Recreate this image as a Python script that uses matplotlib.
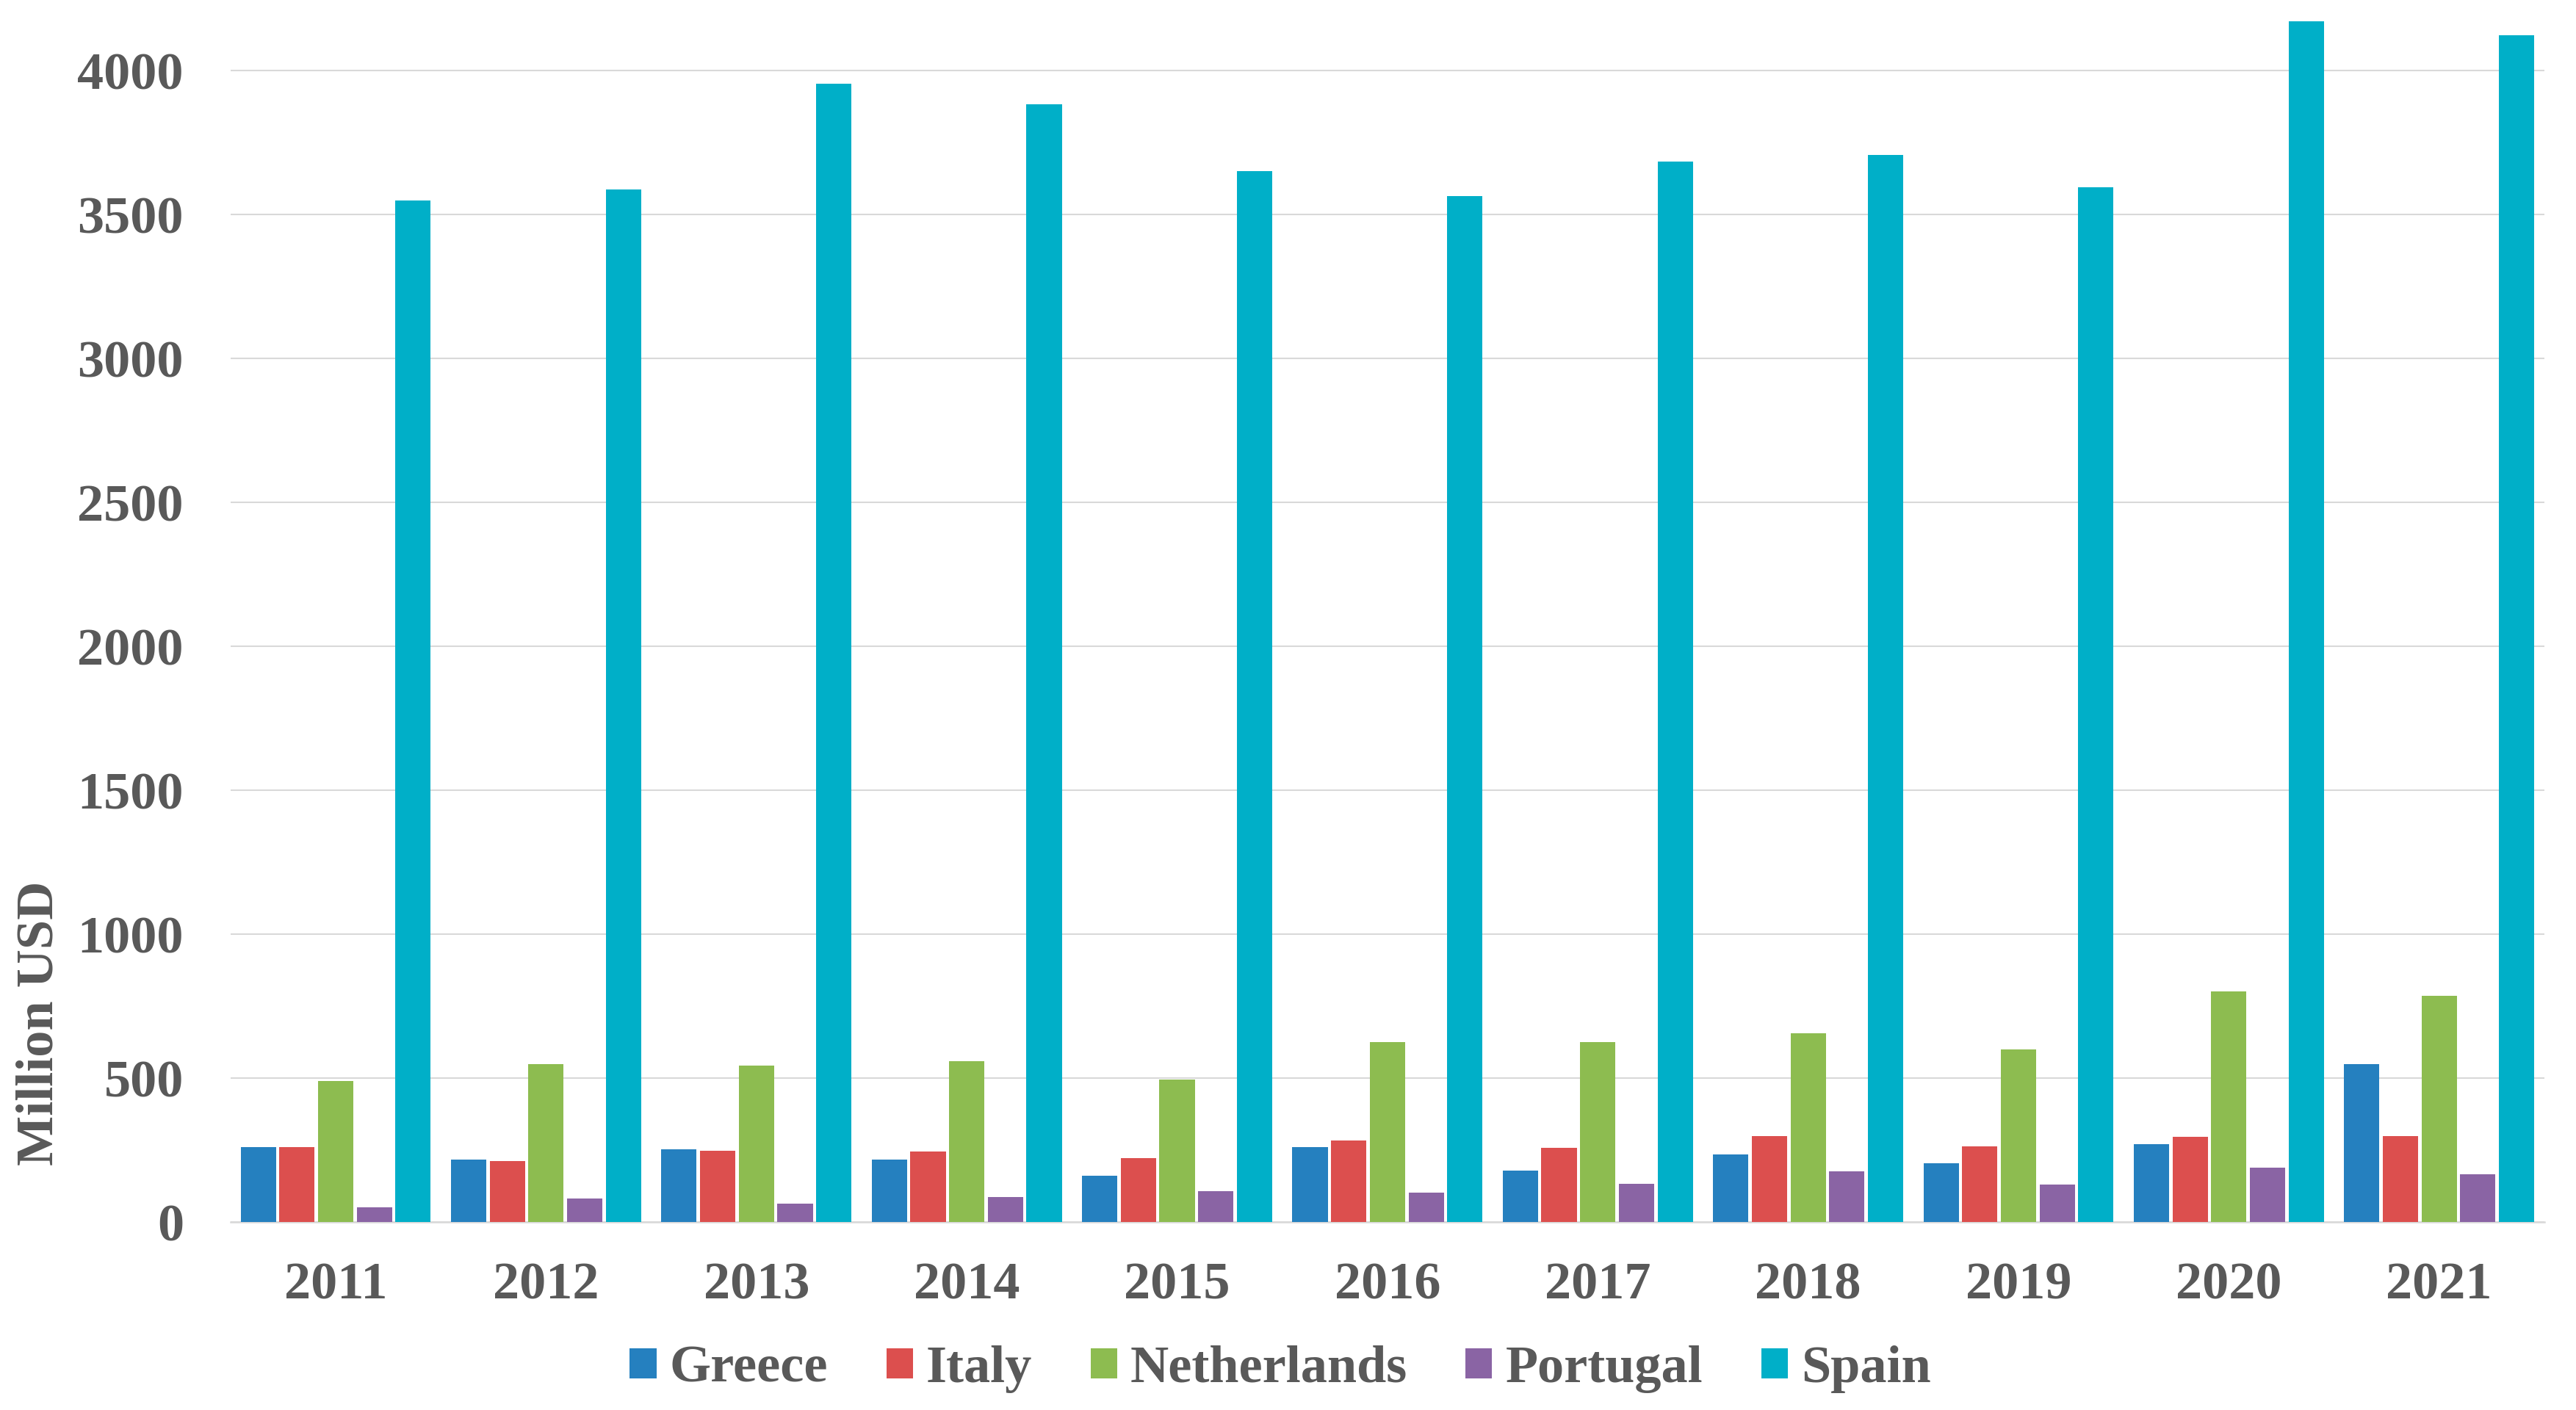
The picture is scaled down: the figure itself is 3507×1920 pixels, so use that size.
import numpy as np
import matplotlib
matplotlib.use('Agg')
import matplotlib.pyplot as plt

# ── Data (Million USD) ────────────────────────────────────────────────────────
years       = ['2011', '2012', '2013', '2014', '2015', '2016',
               '2017', '2018', '2019', '2020', '2021']
greece      = [260, 216, 252, 216, 162, 260, 180, 234, 205, 270, 548]
italy       = [260, 213, 247, 244, 222, 283, 257, 298, 264, 295, 298]
netherlands = [489, 549, 544, 560, 496, 624, 624, 656, 599, 802, 787]
portugal    = [52, 81, 64, 87, 107, 101, 134, 175, 129, 190, 167]
spain       = [3549, 3587, 3953, 3884, 3650, 3565, 3683, 3706, 3594, 4170, 4122]

series_names  = ['Greece', 'Italy', 'Netherlands', 'Portugal', 'Spain']
series_values = [greece, italy, netherlands, portugal, spain]
colors        = ['#2580BF', '#DC4F4E', '#8DBC50', '#8A64A4', '#00AFC8']

text_color = '#595959'
grid_color = '#D9D9D9'
font_size  = 52

plt.rcParams['font.family'] = ['Liberation Serif', 'DejaVu Serif']
plt.rcParams['font.weight'] = 'bold'

fig = plt.figure(figsize=(35.07, 19.20), dpi=100)
ax = fig.add_axes([0.0895, 0.1333, 0.8982, 0.8575])

# ── Grouped bars ──────────────────────────────────────────────────────────────
x    = np.arange(len(years))
step = 0.184
w    = 0.168
for i, (name, vals, col) in enumerate(zip(series_names, series_values, colors)):
    ax.bar(x + (i - 2) * step, vals, w, color=col, label=name, zorder=3)

# ── Axes styling ──────────────────────────────────────────────────────────────
ax.set_xlim(-0.5, len(years) - 0.5)
ax.set_ylim(0, 4200)
ax.set_yticks(np.arange(0, 4001, 500))
ax.set_xticks(x)
ax.set_xticklabels(years)

ax.grid(axis='y', color=grid_color, lw=1.5, zorder=0)
for side in ['top', 'right', 'left']:
    ax.spines[side].set_visible(False)
ax.spines['bottom'].set_color(grid_color)
ax.spines['bottom'].set_linewidth(1.8)

ax.tick_params(axis='both', length=0, labelsize=font_size, labelcolor=text_color)
ax.tick_params(axis='x', pad=39)
ax.tick_params(axis='y', pad=46)

fig.text(54 / 3507, 0.2745, 'Million USD', rotation=90, ha='center', va='center',
         fontsize=font_size, color=text_color, fontweight='bold')

fig.legend(loc='center', bbox_to_anchor=(0.497, 0.029), ncol=5, frameon=False,
           fontsize=font_size, labelcolor=text_color,
           handlelength=0.5, handleheight=0.5, handletextpad=0.25,
           columnspacing=1.1, borderpad=0)

fig.savefig('out.png', dpi=100)
